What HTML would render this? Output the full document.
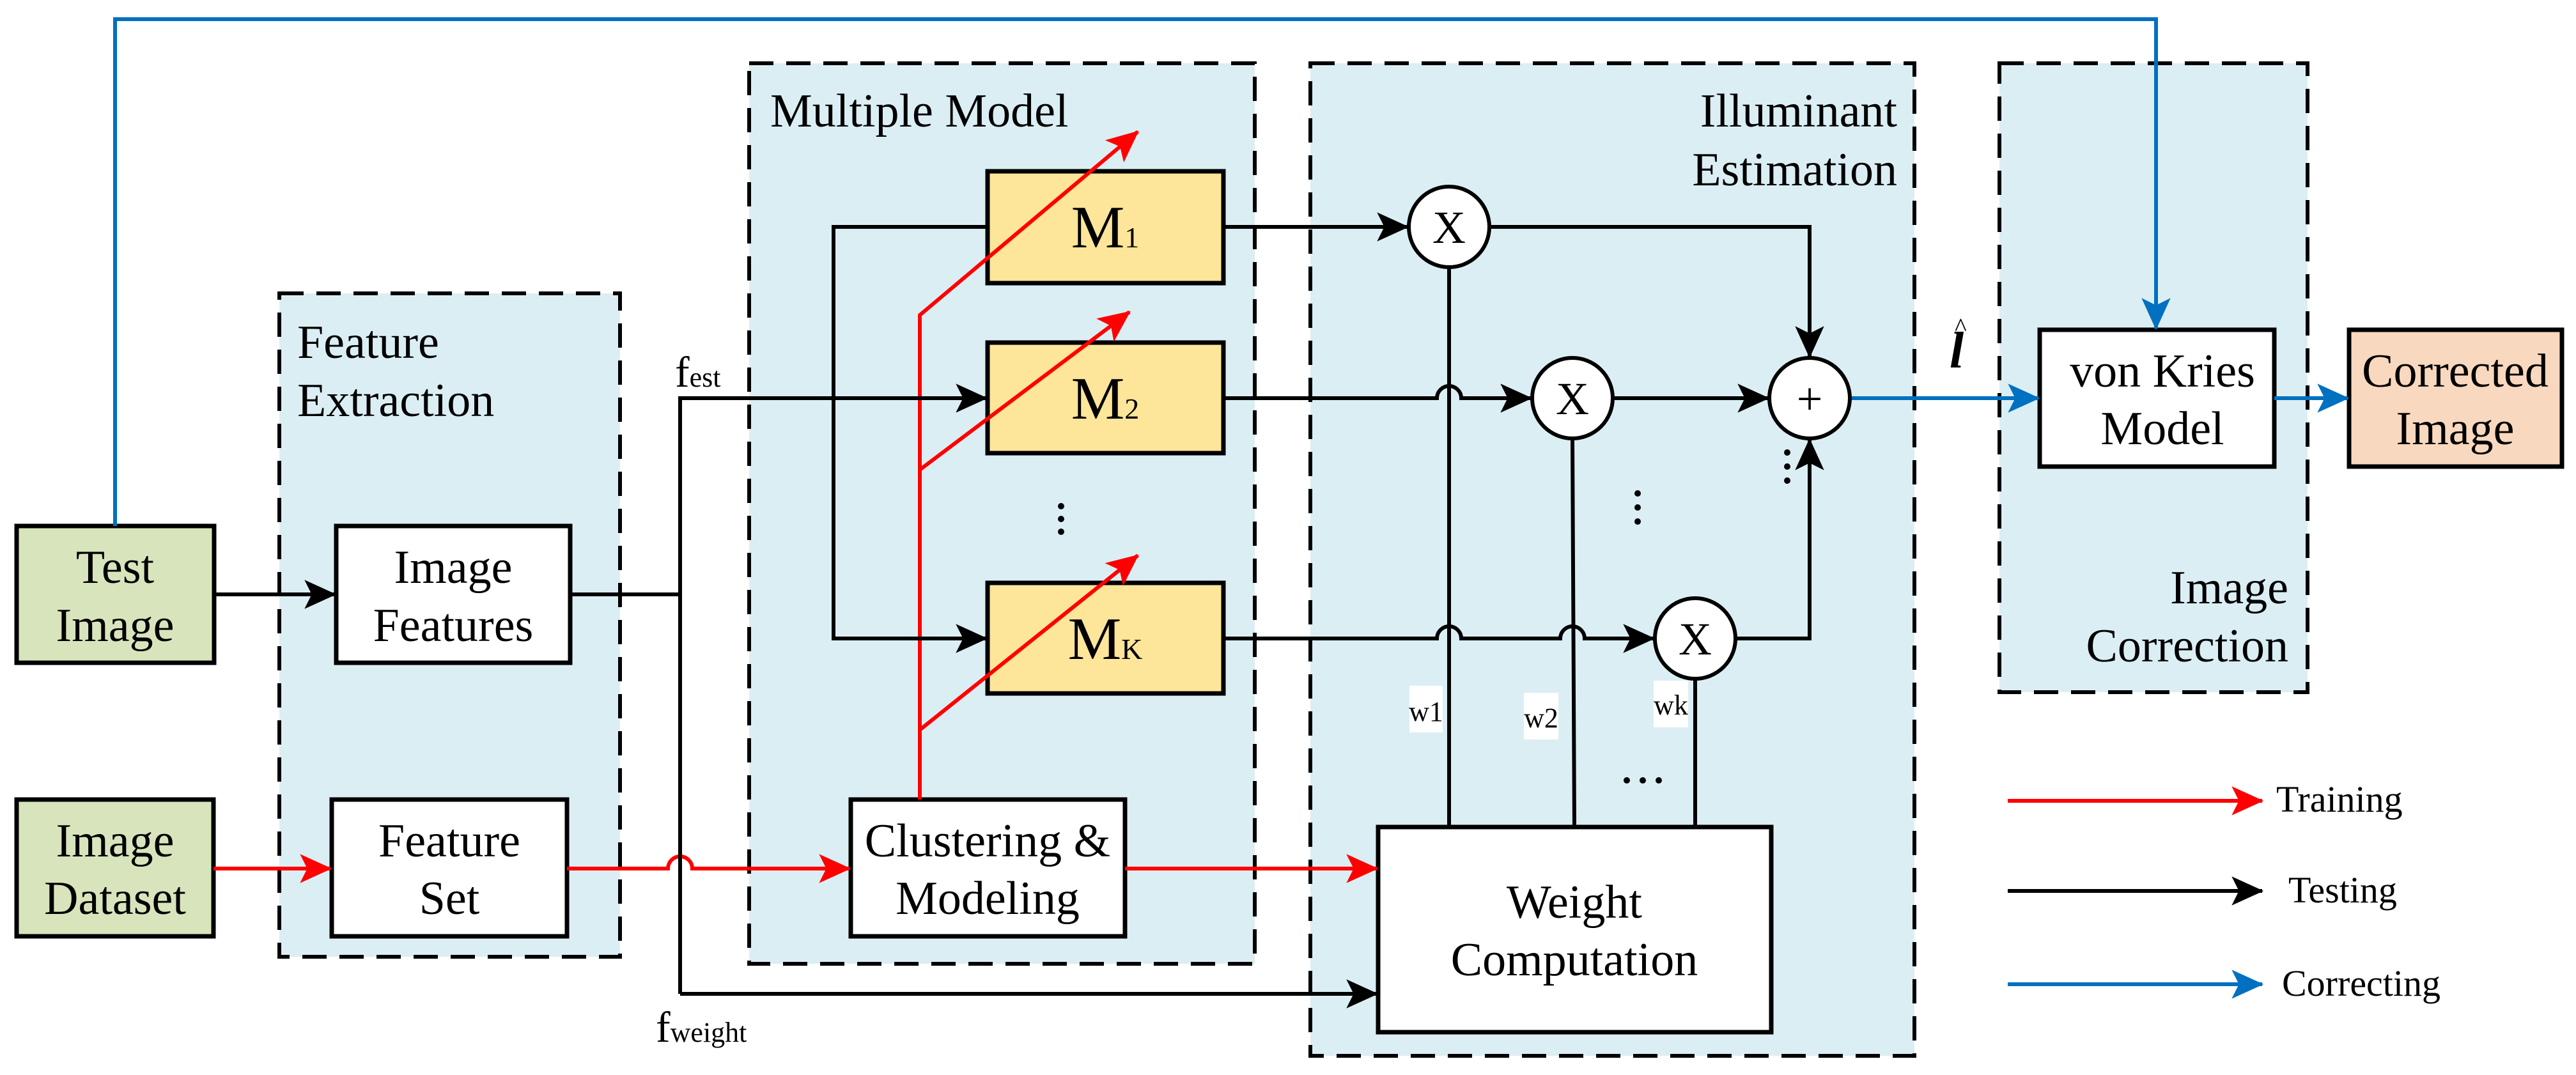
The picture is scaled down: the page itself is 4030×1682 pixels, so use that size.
<!DOCTYPE html>
<html><head><meta charset="utf-8"><style>
html,body{margin:0;padding:0;background:#fff}
svg{display:block}
svg text, svg tspan{font-family:"Liberation Serif","DejaVu Serif",serif !important;fill:#000}
</style></head><body>
<svg width="4030" height="1682" viewBox="0 0 4030 1682" xmlns="http://www.w3.org/2000/svg" font-family="Liberation Serif, DejaVu Serif, serif">
<defs>
<marker id="ak" markerUnits="userSpaceOnUse" markerWidth="50" markerHeight="50" viewBox="0 0 44 44" refX="42" refY="22" orient="auto"><path d="M0,2 L44,22 L0,42 L10,22 Z" fill="#000"/></marker>
<marker id="ar" markerUnits="userSpaceOnUse" markerWidth="50" markerHeight="50" viewBox="0 0 44 44" refX="42" refY="22" orient="auto"><path d="M0,2 L44,22 L0,42 L10,22 Z" fill="#f00"/></marker>
<marker id="ab" markerUnits="userSpaceOnUse" markerWidth="50" markerHeight="50" viewBox="0 0 44 44" refX="42" refY="22" orient="auto"><path d="M0,2 L44,22 L0,42 L10,22 Z" fill="#0070c0"/></marker>
</defs>
<g stroke="#000" stroke-width="6" stroke-dasharray="38,20" fill="#dbeef4">
<rect x="437" y="459" width="533" height="1038"/>
<rect x="1172" y="99" width="791" height="1409"/>
<rect x="2050" y="99" width="945" height="1553"/>
<rect x="3128" y="99" width="482" height="984"/>
</g>
<g stroke="#000" stroke-width="7">
<rect x="26" y="823" width="309" height="214" fill="#d8e4bc"/>
<rect x="26" y="1251" width="308" height="214" fill="#d8e4bc"/>
<rect x="526" y="823" width="366" height="214" fill="#fff"/>
<rect x="519" y="1251" width="368" height="214" fill="#fff"/>
<rect x="1545" y="268" width="369" height="175" fill="#fde59a"/>
<rect x="1545" y="536" width="369" height="173" fill="#fde59a"/>
<rect x="1545" y="912" width="369" height="173" fill="#fde59a"/>
<rect x="1331" y="1251" width="429" height="214" fill="#fff"/>
<rect x="2156" y="1294" width="615" height="321" fill="#fff"/>
<rect x="3191" y="516" width="367" height="214" fill="#fff"/>
<rect x="3675" y="516" width="333" height="214" fill="#f8d8be"/>
</g>
<g fill="none" stroke="#0070c0" stroke-width="6">
<path d="M180,823 V30 H3373 V514" marker-end="url(#ab)"/>
<path d="M2895,623 H3189" marker-end="url(#ab)"/>
<path d="M3558,623 H3673" marker-end="url(#ab)"/>
<path d="M3141,1540 H3539" marker-end="url(#ab)"/>
</g>
<g fill="none" stroke="#f00" stroke-width="6">
<path d="M334,1359 H517" marker-end="url(#ar)"/>
<path d="M887,1359 H1045 A19,19 0 0 1 1083,1359 H1329" marker-end="url(#ar)"/>
<path d="M1760,1359 H2154" marker-end="url(#ar)"/>
<path d="M1439,1251 V493 L1780,206" marker-end="url(#ar)"/>
<path d="M1439,735 L1767,488" marker-end="url(#ar)"/>
<path d="M1439,1142 L1780,869" marker-end="url(#ar)"/>
<path d="M3141,1253 H3539" marker-end="url(#ar)"/>
</g>
<g fill="none" stroke="#000" stroke-width="6">
<path d="M335,930 H524" marker-end="url(#ak)"/>
<path d="M892,930 H1064"/>
<path d="M1064,1555 V623 H1543" marker-end="url(#ak)"/>
<path d="M1064,1555 H2154" marker-end="url(#ak)"/>
<path d="M1543,355 H1304 V999 H1543" marker-end="url(#ak)"/>
<path d="M1914,355 H2202" marker-end="url(#ak)"/>
<path d="M1914,623 H2248 A19,19 0 0 1 2286,623 H2395" marker-end="url(#ak)"/>
<path d="M1914,999 H2248 A19,19 0 0 1 2286,999 H2441 A19,19 0 0 1 2479,999 H2587" marker-end="url(#ak)"/>
<path d="M2330,355 H2831 V558" marker-end="url(#ak)"/>
<path d="M2523,623 H2766" marker-end="url(#ak)"/>
<path d="M2715,999 H2831 V688" marker-end="url(#ak)"/>
<path d="M2267,418 V1294"/>
<path d="M2460,686 L2463,1294"/>
<path d="M2652,1062 V1294"/>
<path d="M3141,1394 H3539" marker-end="url(#ak)"/>
</g>
<g fill="#fff" stroke="#000" stroke-width="6">
<circle cx="2267" cy="355" r="63"/>
<circle cx="2460" cy="623" r="63"/>
<circle cx="2831" cy="623" r="63"/>
<circle cx="2652" cy="999" r="63"/>
</g>
<g fill="#fff">
<rect x="2205" y="1073" width="52" height="73"/>
<rect x="2384" y="1084" width="54" height="73"/>
<rect x="2587" y="1065" width="54" height="73"/>
</g>
<g font-size="72" font-family="Liberation Serif, serif">
<text x="2267" y="380" text-anchor="middle">X</text>
<text x="2460" y="648" text-anchor="middle">X</text>
<text x="2652" y="1024" text-anchor="middle">X</text>
<text x="2831" y="648" text-anchor="middle">+</text>
</g>
<g font-size="74" font-family="Liberation Serif, serif">
<text x="180" y="912" text-anchor="middle">Test</text><text x="180" y="1003" text-anchor="middle">Image</text>
<text x="180" y="1340" text-anchor="middle">Image</text><text x="180" y="1430" text-anchor="middle">Dataset</text>
<text x="709" y="912" text-anchor="middle">Image</text><text x="709" y="1003" text-anchor="middle">Features</text>
<text x="703" y="1340" text-anchor="middle">Feature</text><text x="703" y="1430" text-anchor="middle">Set</text>
<text x="1545" y="1340" text-anchor="middle">Clustering &amp;</text><text x="1545" y="1430" text-anchor="middle">Modeling</text>
<text x="2463" y="1436" text-anchor="middle">Weight</text><text x="2463" y="1526" text-anchor="middle">Computation</text>
<text x="3383" y="605" text-anchor="middle">von Kries</text><text x="3383" y="695" text-anchor="middle">Model</text>
<text x="3841" y="605" text-anchor="middle">Corrected</text><text x="3841" y="695" text-anchor="middle">Image</text>
</g>
<g font-size="74" font-family="Liberation Serif, serif">
<text x="465" y="560">Feature</text><text x="465" y="651">Extraction</text>
<text x="1205" y="198">Multiple Model</text>
<text x="2968" y="198" text-anchor="end">Illuminant</text>
<text x="2968" y="290" text-anchor="end">Estimation</text>
<text x="3580" y="944" text-anchor="end">Image</text>
<text x="3580" y="1035" text-anchor="end">Correction</text>
</g>
<g font-size="94" text-anchor="middle" font-family="Liberation Serif, serif">
<text x="1729" y="387">M<tspan font-size="46">1</tspan></text>
<text x="1729" y="655">M<tspan font-size="46">2</tspan></text>
<text x="1729" y="1031">M<tspan font-size="46">K</tspan></text>
</g>
<text x="1056" y="605" font-size="68">f<tspan font-size="44">est</tspan></text>
<text x="1026" y="1630" font-size="68">f<tspan font-size="44">weight</tspan></text>
<text x="3050" y="575" font-size="80" font-style="italic" font-weight="bold">l</text>
<text x="3058" y="525" font-size="40">^</text>
<g font-size="44">
<text x="2231" y="1128" text-anchor="middle">w1</text>
<text x="2411" y="1138" text-anchor="middle">w2</text>
<text x="2614" y="1118" text-anchor="middle">wk</text>
</g>
<g fill="#000">
<circle cx="1660" cy="792" r="5"/><circle cx="1660" cy="812" r="5"/><circle cx="1660" cy="832" r="5"/>
<circle cx="2562" cy="772" r="5"/><circle cx="2562" cy="794" r="5"/><circle cx="2562" cy="816" r="5"/>
<circle cx="2796" cy="708" r="5"/><circle cx="2796" cy="730" r="5"/><circle cx="2796" cy="752" r="5"/>
<circle cx="2545" cy="1221" r="5"/><circle cx="2570" cy="1221" r="5"/><circle cx="2595" cy="1221" r="5"/>
</g>
<g font-size="58">
<text x="3561" y="1270">Training</text>
<text x="3580" y="1412">Testing</text>
<text x="3570" y="1558">Correcting</text>
</g>
</svg>
</body></html>
